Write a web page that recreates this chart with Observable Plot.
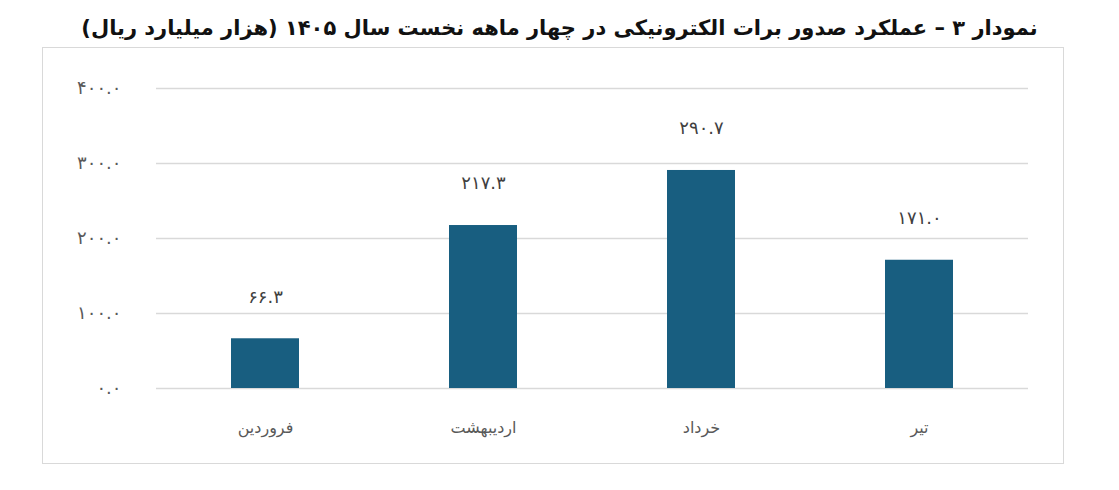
<!DOCTYPE html>
<html><head><meta charset="utf-8">
<script src="https://cdn.jsdelivr.net/npm/d3@7"></script>
<script src="https://cdn.jsdelivr.net/npm/@observablehq/plot@0.6"></script>
<style>
body{margin:0;background:#fff;font-family:"DejaVu Sans",sans-serif;}
#title{position:absolute;left:0;top:16px;width:1119px;text-align:center;direction:rtl;font-weight:bold;font-size:21px;color:#111;font-family:"DejaVu Sans",sans-serif;}
#box{position:absolute;left:42px;top:47px;width:1022px;height:417px;border:1px solid #d9d9d9;box-sizing:border-box;}
#chart{position:absolute;left:0;top:0;}
</style></head><body>
<div id="title">نمودار ۳ – عملکرد صدور برات الکترونیکی در چهار ماهه نخست سال ۱۴۰۵ (هزار میلیارد ریال)</div>
<div id="box"><div id="chart"></div></div>
<script>
const months = ["فروردین", "اردیبهشت", "خرداد", "تیر"];
const values = [66.3, 217.3, 290.7, 171.0];
const yTicks = [0, 100, 200, 300, 400];

const fa = s => String(s).replace(/\d/g, d => "۰۱۲۳۴۵۶۷۸۹"[d]);
const fmt = v => fa(v.toFixed(1));
const data = months.map((m, i) => ({month: m, value: values[i]}));

const chart = Plot.plot({
  width: 1020, height: 415,
  marginLeft: 113, marginRight: 35, marginTop: 40, marginBottom: 75,
  style: {fontFamily: "DejaVu Sans, sans-serif", background: "transparent"},
  x: {domain: months, paddingInner: 0.69, paddingOuter: 0.345, label: null},
  y: {domain: [0, 400], ticks: yTicks, label: null},
  marks: [
    Plot.gridY(yTicks, {stroke: "#d9d9d9", strokeOpacity: 1, strokeWidth: 1.5}),
    Plot.barY(data, {x: "month", y: "value", fill: "#185e80"}),
    Plot.text(data, {x: "month", y: "value", text: d => fmt(d.value), dy: -42, fontSize: 18, fill: "#404040"}),
    Plot.axisY(yTicks, {tickSize: 0, tickPadding: 35, tickFormat: fmt, fontSize: 18, fill: "#595959", label: null}),
    Plot.axisX({tickSize: 0, tickPadding: 33, fontSize: 16, fill: "#595959", label: null})
  ]
});
document.getElementById("chart").appendChild(chart);
</script>
</body></html>
